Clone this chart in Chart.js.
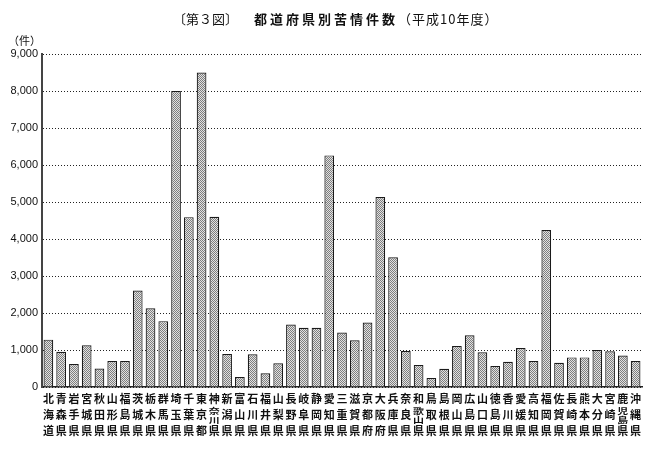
<!DOCTYPE html>
<html lang="ja">
<head>
<meta charset="utf-8">
<title>都道府県別苦情件数</title>
<script src="https://cdn.jsdelivr.net/npm/chart.js@4.4.1/dist/chart.umd.min.js"></script>
<style>
  html, body { margin: 0; padding: 0; background: #fff; }
</style>
</head>
<body>
<canvas id="complaintChart" width="653" height="449"></canvas>
<script>
// 都道府県別苦情件数（平成10年度）
const prefectures = [
  '北海道', '青森県', '岩手県', '宮城県', '秋田県', '山形県', '福島県',
  '茨城県', '栃木県', '群馬県', '埼玉県', '千葉県', '東京都', '神奈川県',
  '新潟県', '富山県', '石川県', '福井県', '山梨県', '長野県', '岐阜県',
  '静岡県', '愛知県', '三重県', '滋賀県', '京都府', '大阪府', '兵庫県',
  '奈良県', '和歌山県', '鳥取県', '島根県', '岡山県', '広島県', '山口県',
  '徳島県', '香川県', '愛媛県', '高知県', '福岡県', '佐賀県', '長崎県',
  '熊本県', '大分県', '宮崎県', '鹿児島県', '沖縄県'
];
const complaints = [
  1280, 950, 620, 1130, 500, 700, 700,
  2610, 2130, 1780, 8000, 4590, 8500, 4600,
  890, 270, 885, 370, 640, 1690, 1600,
  1600, 6260, 1470, 1265, 1745, 5135, 3505,
  975, 595, 240, 495, 1105, 1400, 940,
  570, 680, 1055, 705, 4245, 655, 800,
  800, 1000, 965, 850, 705
];
const yMax = 9000;
const yStep = 1000;

const titleParts = [
  { text: '〔第３図〕', weight: 'normal', spacing: 0, gap: 16 },
  { text: '都道府県別苦情件数', weight: 'bold', spacing: 3, gap: 0 },
  { text: '（平成10年度）', weight: 'normal', spacing: 1, gap: 0 }
];
const unitLabel = '（件）';

const jpFont = '"Noto Sans CJK JP", "Noto Sans CJK SC", sans-serif';

// stippled grey fill like the printed figure
function stipple(ctx) {
  const c = document.createElement('canvas');
  c.width = 2; c.height = 2;
  const g = c.getContext('2d');
  g.fillStyle = '#e2e2e2';
  g.fillRect(0, 0, 2, 2);
  g.fillStyle = '#7e7e7e';
  g.fillRect(0, 0, 1, 1);
  g.fillRect(1, 1, 1, 1);
  return ctx.createPattern(c, 'repeat');
}

// title, unit and vertical prefecture names
const decorations = {
  id: 'decorations',
  afterDraw(chart) {
    const { ctx, scales: { x } } = chart;
    ctx.save();
    ctx.fillStyle = '#111';
    ctx.textBaseline = 'middle';
    ctx.textAlign = 'left';

    // title
    let tx = 173;
    titleParts.forEach(p => {
      ctx.font = p.weight + ' 13px ' + jpFont;
      ctx.letterSpacing = p.spacing + 'px';
      ctx.fillText(p.text, tx, 19);
      tx += ctx.measureText(p.text).width + p.gap;
    });
    ctx.letterSpacing = '0px';

    // unit
    ctx.font = '11px ' + jpFont;
    ctx.fillText(unitLabel, 8, 41);

    // category labels, one character per row
    const rows = [399, 415, 431];
    ctx.font = 'bold 11px ' + jpFont;
    ctx.textAlign = 'center';
    prefectures.forEach((name, i) => {
      const cx = x.getPixelForValue(i);
      const chars = Array.from(name);
      if (chars.length === 3) {
        chars.forEach((ch, k) => ctx.fillText(ch, cx, rows[k]));
      } else {
        ctx.fillText(chars[0], cx, rows[0]);
        ctx.fillText(chars[3], cx, rows[2]);
        [chars[1], chars[2]].forEach((ch, k) => {
          ctx.save();
          ctx.translate(cx, rows[1] - 4.5 + k * 9);
          ctx.scale(1, 0.72);
          ctx.fillText(ch, 0, 0);
          ctx.restore();
        });
      }
    });
    ctx.restore();
  }
};

const ctx = document.getElementById('complaintChart').getContext('2d');
new Chart(ctx, {
  type: 'bar',
  data: {
    labels: prefectures,
    datasets: [{
      data: complaints,
      backgroundColor: stipple(ctx),
      borderColor: '#1a1a1a',
      borderWidth: 1.2,
      barPercentage: 0.76,
      categoryPercentage: 1.0
    }]
  },
  options: {
    responsive: false,
    animation: false,
    layout: { padding: { top: 54, bottom: 62, left: 0, right: 11 } },
    plugins: {
      legend: { display: false },
      tooltip: { enabled: false },
      title: { display: false }
    },
    scales: {
      x: {
        grid: { display: false, drawTicks: false },
        border: { display: true, color: '#222', width: 1.5 },
        ticks: { display: false },
        afterFit(scale) { scale.height = 0; }
      },
      y: {
        min: 0,
        max: yMax,
        afterFit(scale) { scale.width = 42; },
        ticks: {
          stepSize: yStep,
          padding: 4,
          color: '#111',
          font: { family: '"Liberation Sans", Arial, sans-serif', size: 11 },
          callback: v => v.toLocaleString('en-US')
        },
        grid: {
          drawTicks: false,
          color: '#222',
          lineWidth: 1
        },
        border: { display: true, color: '#444', width: 2, dash: [1, 2] }
      }
    }
  },
  plugins: [decorations]
});
</script>
</body>
</html>
